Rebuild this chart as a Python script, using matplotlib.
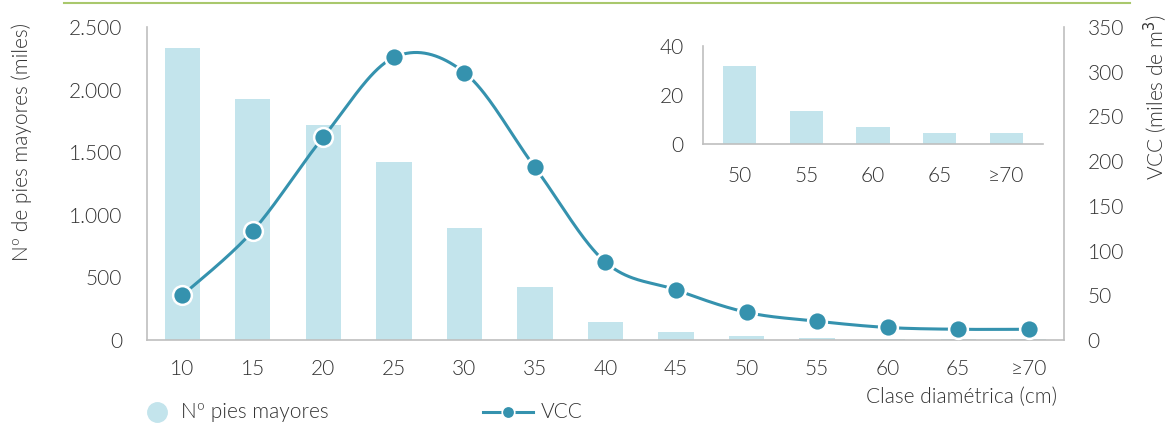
import numpy as np
import matplotlib
matplotlib.use("Agg")
import matplotlib.pyplot as plt
from matplotlib.lines import Line2D

plt.rcParams['font.family'] = ['Lato', 'DejaVu Sans']
plt.rcParams['font.weight'] = 300
plt.rcParams['axes.labelweight'] = 300

# Diameter classes (cm)
clases = ["10", "15", "20", "25", "30", "35", "40", "45", "50", "55", "60", "65", "≥70"]
# Number of trees (thousands) per class
pies = [2335, 1927, 1717, 1422, 895, 423, 144, 64, 32, 13.6, 6.8, 4.3, 4.3]
# Standing volume with bark (thousands of m3) per class
vcc = [50, 122, 227, 316, 299, 193, 87, 56, 31, 21, 14, 12, 12]
# Detail for the largest classes
clases_det = ["50", "55", "60", "65", "≥70"]
pies_det = [32, 13.6, 6.8, 4.3, 4.3]

BAR = "#C3E4EC"
LINE = "#3592AE"
TXT = "#333333"
SPINE = "#BFBFBF"
FS = 15

def smooth(x, y, n=40):
    """Bezier smoothing through the points (Catmull-Rom style)."""
    x = np.asarray(x, float); y = np.asarray(y, float)
    px = np.concatenate([[x[0]], x, [x[-1]]])
    py = np.concatenate([[y[0]], y, [y[-1]]])
    xs, ys = [], []
    t = np.linspace(0, 1, n)
    for i in range(1, len(px) - 2):
        p0 = np.array([px[i], py[i]]); p3 = np.array([px[i + 1], py[i + 1]])
        c1 = p0 + (np.array([px[i + 1], py[i + 1]]) - np.array([px[i - 1], py[i - 1]])) / 6
        c2 = p3 - (np.array([px[i + 2], py[i + 2]]) - np.array([px[i], py[i]])) / 6
        b = ((1 - t) ** 3)[:, None] * p0 + (3 * (1 - t) ** 2 * t)[:, None] * c1 \
            + (3 * (1 - t) * t ** 2)[:, None] * c2 + (t ** 3)[:, None] * p3
        xs.append(b[:, 0]); ys.append(b[:, 1])
    return np.concatenate(xs), np.concatenate(ys)

fig = plt.figure(figsize=(11.67, 4.23), dpi=100)
ax = fig.add_axes([0.126, 0.1962, 0.7857, 0.74])
x = np.arange(len(clases))
ax.bar(x, pies, width=0.5, color=BAR, zorder=1)
ax.set_xlim(-0.5, len(clases) - 0.5)
ax.set_ylim(0, 2500)
ax.set_yticks([0, 500, 1000, 1500, 2000, 2500])
ax.set_yticklabels(["0", "500", "1.000", "1.500", "2.000", "2.500"])
ax.set_xticks(x)
ax.set_xticklabels(clases)
ax.tick_params(length=0, labelsize=FS, colors=TXT, pad=14)
ax.tick_params(axis='y', pad=18)
ax.spines["top"].set_visible(False)
for s in ["left", "bottom", "right"]:
    ax.spines[s].set_color(SPINE)
    ax.spines[s].set_linewidth(1.2)
fig.text(22 / 1167, 1 - 142 / 423, "Nº de pies mayores (miles)", rotation=90,
         fontsize=FS, color=TXT, ha="center", va="center")

ax2 = ax.twinx()
ax2.set_ylim(0, 350)
ax2.set_yticks(range(0, 351, 50))
ax2.tick_params(length=0, labelsize=FS, colors=TXT, pad=17)
for s in ax2.spines.values():
    s.set_visible(False)
sx, sy = smooth(x, vcc)
ax2.plot(sx, sy, color=LINE, lw=2.2, zorder=3)
ax2.plot(x, vcc, 'o', color=LINE, ms=13.5, mec="white", mew=1.8, zorder=4, ls="none")
fig.text(1155 / 1167, 1 - 97 / 423, "VCC (miles de m$^3$)", rotation=90, fontsize=FS,
         color=TXT, ha="center", va="center")

fig.text(0.906, 0.062, "Clase diamétrica (cm)", fontsize=FS, color=TXT, ha="right", va="center")

# Inset with the largest classes
axi = fig.add_axes([0.6024, 0.6596, 0.2913, 0.2317])
xi = np.arange(len(clases_det))
axi.bar(xi, pies_det, width=0.5, color=BAR)
axi.set_xlim(-0.55, len(clases_det) - 0.45)
axi.set_ylim(0, 40)
axi.set_yticks([0, 20, 40])
axi.set_xticks(xi)
axi.set_xticklabels(clases_det)
axi.tick_params(length=0, labelsize=FS, colors=TXT, pad=16)
axi.tick_params(axis='y', pad=14)
axi.patch.set_alpha(0)
for s in ["top", "right"]:
    axi.spines[s].set_visible(False)
for s in ["left", "bottom"]:
    axi.spines[s].set_color(SPINE)
    axi.spines[s].set_linewidth(1.2)

# Decorative rule at the top
fig.add_artist(Line2D([0.055, 0.968], [0.993, 0.993], color="#A9C86C", lw=1.5,
                      transform=fig.transFigure))

# Legend drawn in figure coordinates
ly = 1 - 412 / 423
fig.add_artist(Line2D([157 / 1167], [ly], marker='o', ls='none', color=BAR, ms=14,
                      transform=fig.transFigure))
fig.text(181 / 1167, ly, "Nº pies mayores", fontsize=FS, color=TXT, va="center", ha="left")
fig.add_artist(Line2D([483 / 1167, 533 / 1167], [ly, ly], color=LINE, lw=2.2,
                      transform=fig.transFigure))
fig.add_artist(Line2D([508 / 1167], [ly], marker='o', ls='none', color=LINE, ms=9,
                      mec="white", mew=1.2, transform=fig.transFigure))
fig.text(541 / 1167, ly, "VCC", fontsize=FS, color=TXT, va="center", ha="left")

fig.savefig("out.png", dpi=100)
